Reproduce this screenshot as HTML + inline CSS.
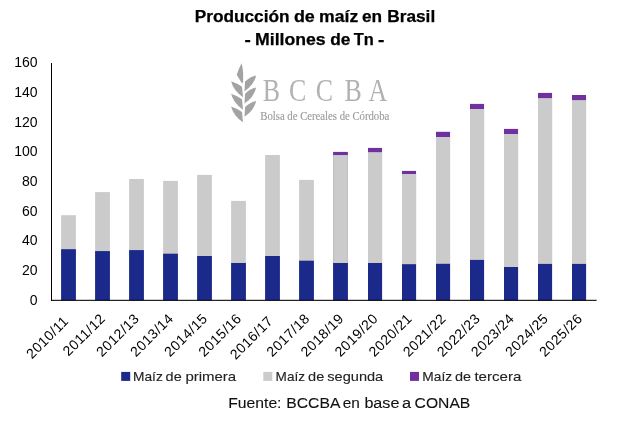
<!DOCTYPE html><html><head><meta charset="utf-8"><title>Producción de maíz en Brasil</title><style>html,body{margin:0;padding:0;background:#fff}svg{display:block}text{font-family:"Liberation Sans",sans-serif}.serif{font-family:"Liberation Serif",serif}</style></head><body>
<svg width="627" height="421" viewBox="0 0 627 421">
<rect width="627" height="421" fill="#fff"/>
<text y="21.7" font-size="16" font-weight="bold" stroke="#000" stroke-width="0.25" fill="#000"><tspan x="194.70" textLength="94.80" lengthAdjust="spacingAndGlyphs">Producción</tspan> <tspan x="293.90" textLength="20.90" lengthAdjust="spacingAndGlyphs">de</tspan> <tspan x="319.10" textLength="39.10" lengthAdjust="spacingAndGlyphs">maíz</tspan> <tspan x="361.90" textLength="20.10" lengthAdjust="spacingAndGlyphs">en</tspan> <tspan x="387.30" textLength="47.90" lengthAdjust="spacingAndGlyphs">Brasil</tspan></text>
<text y="44.65" font-size="16" font-weight="bold" stroke="#000" stroke-width="0.25" fill="#000"><tspan x="244.40" textLength="6.30" lengthAdjust="spacingAndGlyphs">-</tspan> <tspan x="255.10" textLength="70.60" lengthAdjust="spacingAndGlyphs">Millones</tspan> <tspan x="330.30" textLength="20.20" lengthAdjust="spacingAndGlyphs">de</tspan> <tspan x="353.80" textLength="20.00" lengthAdjust="spacingAndGlyphs">Tn</tspan> <tspan x="378.00" textLength="6.40" lengthAdjust="spacingAndGlyphs">-</tspan></text>
<g fill="#a3a3a3">
<path d="M241.5 63.2 Q238.6 69 236.7 74.7 L242.2 83.7 L243.1 81.5 L243.1 72 Q242.7 67 241.5 63.2Z"/>
<path d="M256.1 75.4 Q250.6 76.4 245.1 81.6 L244.5 91.3 Q254.1 85.1 256.1 75.4Z"/>
<path d="M256.1 87.6 Q250.6 88.6 245.1 93.8 L244.5 103.5 Q254.1 97.3 256.1 87.6Z"/>
<path d="M256.1 100.9 Q250.6 101.9 245.1 107.1 L244.5 116.8 Q254.1 110.6 256.1 100.9Z"/>
<path d="M231.1 81.3 Q236.7 83.1 242.0 86.8 L243.0 97.2 Q233.5 90.8 231.1 81.3Z"/>
<path d="M231.1 93.8 Q236.7 95.6 242.0 99.3 L243.0 109.7 Q233.5 103.3 231.1 93.8Z"/>
<path d="M231.1 106.4 Q236.7 108.2 242.0 111.9 L243.0 122.3 Q233.5 115.9 231.1 106.4Z"/>
</g>
<text class="serif" transform="translate(0,100.9) scale(0.82,1)" x="320.37 352.32 385.12 420.12 449.39" y="0" font-size="31.6" fill="#b2b2b2">BCCBA</text>
<text class="serif" x="260.3" y="119.9" font-size="11.6" fill="#9c9c9c" stroke="#9c9c9c" stroke-width="0.15" textLength="129" lengthAdjust="spacingAndGlyphs">Bolsa de Cereales de Córdoba</text>
<rect x="61.10" y="215.2" width="14.8" height="85.10" fill="#cbcbcb"/>
<rect x="61.10" y="249.2" width="14.8" height="51.10" fill="#1a298a"/>
<rect x="95.10" y="192.1" width="14.8" height="108.20" fill="#cbcbcb"/>
<rect x="95.10" y="251.1" width="14.8" height="49.20" fill="#1a298a"/>
<rect x="129.10" y="179" width="14.8" height="121.30" fill="#cbcbcb"/>
<rect x="129.10" y="250.1" width="14.8" height="50.20" fill="#1a298a"/>
<rect x="163.10" y="180.9" width="14.8" height="119.40" fill="#cbcbcb"/>
<rect x="163.10" y="253.7" width="14.8" height="46.60" fill="#1a298a"/>
<rect x="197.10" y="174.9" width="14.8" height="125.40" fill="#cbcbcb"/>
<rect x="197.10" y="256" width="14.8" height="44.30" fill="#1a298a"/>
<rect x="231.10" y="200.9" width="14.8" height="99.40" fill="#cbcbcb"/>
<rect x="231.10" y="263" width="14.8" height="37.30" fill="#1a298a"/>
<rect x="265.10" y="155" width="14.8" height="145.30" fill="#cbcbcb"/>
<rect x="265.10" y="256" width="14.8" height="44.30" fill="#1a298a"/>
<rect x="299.10" y="179.9" width="14.8" height="120.40" fill="#cbcbcb"/>
<rect x="299.10" y="260.7" width="14.8" height="39.60" fill="#1a298a"/>
<rect x="333.10" y="151.9" width="14.8" height="148.40" fill="#7030a0"/>
<rect x="333.10" y="155.05" width="14.8" height="145.25" fill="#cbcbcb"/>
<rect x="333.10" y="263" width="14.8" height="37.30" fill="#1a298a"/>
<rect x="368.00" y="147.9" width="14.05" height="152.40" fill="#7030a0"/>
<rect x="368.00" y="152.15" width="14.05" height="148.15" fill="#cbcbcb"/>
<rect x="368.00" y="263" width="14.05" height="37.30" fill="#1a298a"/>
<rect x="402.00" y="170.9" width="14.05" height="129.40" fill="#7030a0"/>
<rect x="402.00" y="174" width="14.05" height="126.30" fill="#cbcbcb"/>
<rect x="402.00" y="264.2" width="14.05" height="36.10" fill="#1a298a"/>
<rect x="436.00" y="131.8" width="14.05" height="168.50" fill="#7030a0"/>
<rect x="436.00" y="137" width="14.05" height="163.30" fill="#cbcbcb"/>
<rect x="436.00" y="263.8" width="14.05" height="36.50" fill="#1a298a"/>
<rect x="470.00" y="103.9" width="14.05" height="196.40" fill="#7030a0"/>
<rect x="470.00" y="109" width="14.05" height="191.30" fill="#cbcbcb"/>
<rect x="470.00" y="259.9" width="14.05" height="40.40" fill="#1a298a"/>
<rect x="504.00" y="128.9" width="14.05" height="171.40" fill="#7030a0"/>
<rect x="504.00" y="134" width="14.05" height="166.30" fill="#cbcbcb"/>
<rect x="504.00" y="267" width="14.05" height="33.30" fill="#1a298a"/>
<rect x="538.00" y="92.9" width="14.05" height="207.40" fill="#7030a0"/>
<rect x="538.00" y="98.1" width="14.05" height="202.20" fill="#cbcbcb"/>
<rect x="538.00" y="263.9" width="14.05" height="36.40" fill="#1a298a"/>
<rect x="572.00" y="95" width="14.05" height="205.30" fill="#7030a0"/>
<rect x="572.00" y="100.1" width="14.05" height="200.20" fill="#cbcbcb"/>
<rect x="572.00" y="263.9" width="14.05" height="36.40" fill="#1a298a"/>
<rect x="51" y="63" width="1" height="238" fill="#000"/>
<rect x="51" y="299.8" width="545.6" height="1.05" fill="#000"/>
<text x="37.6" y="305.30" font-size="14" text-anchor="end" fill="#000">0</text>
<text x="37.6" y="275.40" font-size="14" text-anchor="end" fill="#000">20</text>
<text x="37.6" y="245.20" font-size="14" text-anchor="end" fill="#000">40</text>
<text x="37.6" y="216.10" font-size="14" text-anchor="end" fill="#000">60</text>
<text x="37.6" y="186.10" font-size="14" text-anchor="end" fill="#000">80</text>
<text x="37.6" y="156.10" font-size="14" text-anchor="end" fill="#000">100</text>
<text x="37.6" y="127.10" font-size="14" text-anchor="end" fill="#000">120</text>
<text x="37.6" y="97.20" font-size="14" text-anchor="end" fill="#000">140</text>
<text x="37.6" y="67.40" font-size="14" text-anchor="end" fill="#000">160</text>
<text transform="translate(69.45,321.90) rotate(-45)" font-size="14" letter-spacing="0.5" text-anchor="end" fill="#000">2010/11</text>
<text transform="translate(106.13,319.30) rotate(-45)" font-size="14" letter-spacing="0.5" text-anchor="end" fill="#000">2011/12</text>
<text transform="translate(140.21,319.30) rotate(-45)" font-size="14" letter-spacing="0.5" text-anchor="end" fill="#000">2012/13</text>
<text transform="translate(174.29,319.30) rotate(-45)" font-size="14" letter-spacing="0.5" text-anchor="end" fill="#000">2013/14</text>
<text transform="translate(208.37,319.30) rotate(-45)" font-size="14" letter-spacing="0.5" text-anchor="end" fill="#000">2014/15</text>
<text transform="translate(242.45,319.30) rotate(-45)" font-size="14" letter-spacing="0.5" text-anchor="end" fill="#000">2015/16</text>
<text transform="translate(273.93,321.90) rotate(-45)" font-size="14" letter-spacing="0.5" text-anchor="end" fill="#000">2016/17</text>
<text transform="translate(310.61,319.30) rotate(-45)" font-size="14" letter-spacing="0.5" text-anchor="end" fill="#000">2017/18</text>
<text transform="translate(344.69,319.30) rotate(-45)" font-size="14" letter-spacing="0.5" text-anchor="end" fill="#000">2018/19</text>
<text transform="translate(378.77,319.30) rotate(-45)" font-size="14" letter-spacing="0.5" text-anchor="end" fill="#000">2019/20</text>
<text transform="translate(412.85,319.30) rotate(-45)" font-size="14" letter-spacing="0.5" text-anchor="end" fill="#000">2020/21</text>
<text transform="translate(446.93,319.30) rotate(-45)" font-size="14" letter-spacing="0.5" text-anchor="end" fill="#000">2021/22</text>
<text transform="translate(481.01,319.30) rotate(-45)" font-size="14" letter-spacing="0.5" text-anchor="end" fill="#000">2022/23</text>
<text transform="translate(515.09,319.30) rotate(-45)" font-size="14" letter-spacing="0.5" text-anchor="end" fill="#000">2023/24</text>
<text transform="translate(549.17,319.30) rotate(-45)" font-size="14" letter-spacing="0.5" text-anchor="end" fill="#000">2024/25</text>
<text transform="translate(583.25,319.30) rotate(-45)" font-size="14" letter-spacing="0.5" text-anchor="end" fill="#000">2025/26</text>
<rect x="121.2" y="371.9" width="9" height="9" fill="#1a298a"/>
<text y="380.8" font-size="13.5" fill="#222" stroke="#222" stroke-width="0.12"><tspan x="133.00" textLength="29.80" lengthAdjust="spacingAndGlyphs">Maíz</tspan> <tspan x="165.60" textLength="16.10" lengthAdjust="spacingAndGlyphs">de</tspan> <tspan x="185.40" textLength="50.80" lengthAdjust="spacingAndGlyphs">primera</tspan></text>
<rect x="263.3" y="371.9" width="9" height="9" fill="#cbcbcb"/>
<text y="380.8" font-size="13.5" fill="#222" stroke="#222" stroke-width="0.12"><tspan x="275.60" textLength="29.40" lengthAdjust="spacingAndGlyphs">Maíz</tspan> <tspan x="308.10" textLength="16.20" lengthAdjust="spacingAndGlyphs">de</tspan> <tspan x="327.30" textLength="55.90" lengthAdjust="spacingAndGlyphs">segunda</tspan></text>
<rect x="410.0" y="371.9" width="9" height="9" fill="#7030a0"/>
<text y="380.8" font-size="13.5" fill="#222" stroke="#222" stroke-width="0.12"><tspan x="422.30" textLength="29.80" lengthAdjust="spacingAndGlyphs">Maíz</tspan> <tspan x="455.00" textLength="16.10" lengthAdjust="spacingAndGlyphs">de</tspan> <tspan x="474.40" textLength="47.00" lengthAdjust="spacingAndGlyphs">tercera</tspan></text>
<text y="407.6" font-size="15.1" fill="#111" stroke="#111" stroke-width="0.1"><tspan x="228.20" textLength="53.30" lengthAdjust="spacingAndGlyphs">Fuente:</tspan> <tspan x="286.30" textLength="53.20" lengthAdjust="spacingAndGlyphs">BCCBA</tspan> <tspan x="342.70" textLength="17.10" lengthAdjust="spacingAndGlyphs">en</tspan> <tspan x="364.40" textLength="35.00" lengthAdjust="spacingAndGlyphs">base</tspan> <tspan x="402.10" textLength="9.10" lengthAdjust="spacingAndGlyphs">a</tspan> <tspan x="414.60" textLength="55.70" lengthAdjust="spacingAndGlyphs">CONAB</tspan></text>
</svg></body></html>
